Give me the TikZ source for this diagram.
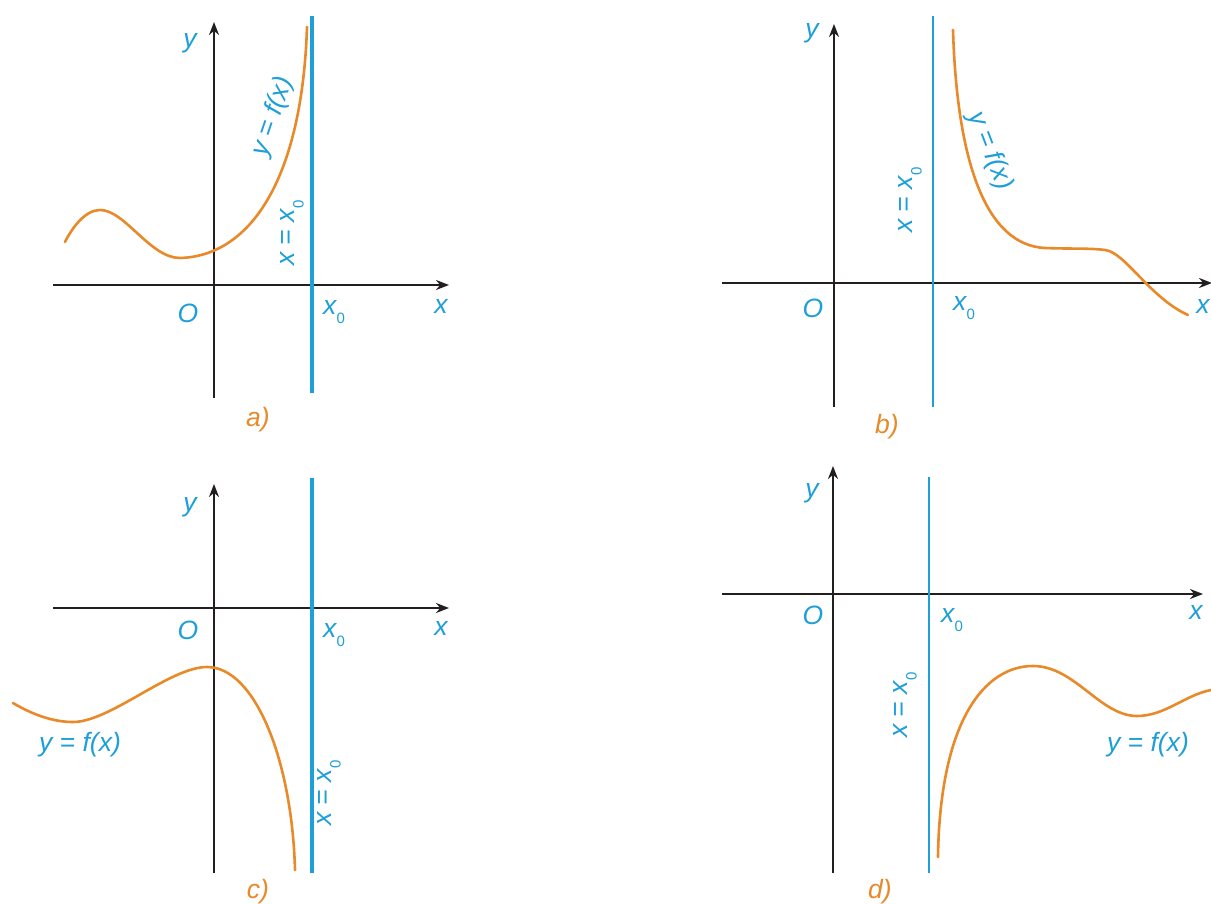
\documentclass[tikz,border=0pt]{standalone}
\usepackage{fontspec}
\setmainfont{Liberation Sans}
\usetikzlibrary{arrows.meta}
\definecolor{axisc}{HTML}{231F20}
\definecolor{bluec}{HTML}{1E9FD8}
\definecolor{orangec}{HTML}{E8892A}
\newcommand{\xsub}{x\kern0.3pt\raisebox{-0.35em}{\fontsize{15}{15}\selectfont\upshape 0}}
\tikzset{
  axis/.style={draw=axisc, line width=2.6pt, -{Stealth[length=13pt,width=10pt]}},
  asym/.style={draw=bluec, line width=3.6pt},
  asymthin/.style={draw=bluec, line width=2.8pt},
  curve/.style={draw=orangec, line width=2.6pt, line cap=round, line join=round},
  lab/.style={text=bluec, font=\fontsize{26.5}{30}\selectfont\itshape, inner sep=0pt},
  panellab/.style={text=orangec, font=\fontsize{26.5}{30}\selectfont\itshape, inner sep=0pt},
}
\begin{document}
\begin{tikzpicture}[x=1pt,y=-1pt]
\useasboundingbox (0,0) rectangle (1211,904);
\fill[white] (0,0) rectangle (1211,904);

% ---------- panel a ----------
\coordinate (aXl) at (53,285); \coordinate (aXr) at (449,285);
\coordinate (aYb) at (214,398); \coordinate (aYt) at (214,22);
\coordinate (aAt) at (312,16); \coordinate (aAb) at (312,393);
\draw[axis] (aXl) -- (aXr);
\draw[axis] (aYb) -- (aYt);
\draw[asym] (aAt) -- (aAb);
\draw[curve] (65,242) .. controls (72,228) and (85,210) .. (100,210)
  .. controls (125,210) and (150,258) .. (180,258)
  .. controls (250,256) and (302,180) .. (307,27);
\node[lab] (ay) at (190,43) {y};
\node[lab] (aO) at (188,313) {O};
\node[lab] (ax0) at (334,312) {\xsub};
\node[lab] (ax) at (441,307) {x};
\node[lab, rotate=71] (af) at (273,117) {y = f(x)};
\node[lab, rotate=90] (aa) at (292,233) {x = \xsub};
\node[panellab] (acap) at (258,420) {a)};

% ---------- panel b ----------
\coordinate (bXl) at (722,283); \coordinate (bXr) at (1212,283);
\coordinate (bYb) at (834,407); \coordinate (bYt) at (834,24);
\coordinate (bAt) at (933,16); \coordinate (bAb) at (933,407);
\draw[axis] (bXl) -- (bXr);
\draw[axis] (bYb) -- (bYt);
\draw[asymthin] (bAt) -- (bAb);
\draw[curve] (953,30) .. controls (957,160) and (985,245) .. (1045,248)
  .. controls (1070,249) and (1090,248) .. (1105,250)
  .. controls (1125,252) and (1150,298) .. (1188,315);
\node[lab] (by) at (812,33) {y};
\node[lab] (bO) at (813,308) {O};
\node[lab] (bx0) at (964,308) {\xsub};
\node[lab] (bx) at (1203,307) {x};
\node[lab, rotate=-69] (bf) at (990,151) {y = f(x)};
\node[lab, rotate=90] (ba) at (910,200) {x = \xsub};
\node[panellab] (bcap) at (887,427) {b)};

% ---------- panel c ----------
\coordinate (cXl) at (53,608); \coordinate (cXr) at (449,608);
\coordinate (cYb) at (214,873); \coordinate (cYt) at (214,484);
\coordinate (cAt) at (312,478); \coordinate (cAb) at (312,873);
\draw[axis] (cXl) -- (cXr);
\draw[axis] (cYb) -- (cYt);
\draw[asym] (cAt) -- (cAb);
\draw[curve] (13,703) .. controls (35,716) and (55,722) .. (73,722)
  .. controls (110,722) and (170,667) .. (207,667)
  .. controls (255,667) and (292,760) .. (295,870);
\node[lab] (cy) at (190,507) {y};
\node[lab] (cO) at (188,630) {O};
\node[lab] (cx0) at (334,635) {\xsub};
\node[lab] (cx) at (441,628) {x};
\node[lab] (cf) at (80,745) {y = f(x)};
\node[lab, rotate=90] (ca) at (329,793) {x = \xsub};
\node[panellab] (ccap) at (258,892) {c)};

% ---------- panel d ----------
\coordinate (dXl) at (722,594); \coordinate (dXr) at (1203,594);
\coordinate (dYb) at (833,873); \coordinate (dYt) at (833,466);
\coordinate (dAt) at (929,477); \coordinate (dAb) at (929,873);
\draw[axis] (dXl) -- (dXr);
\draw[axis] (dYb) -- (dYt);
\draw[asymthin] (dAt) -- (dAb);
\draw[curve] (938,857) .. controls (940,720) and (985,666) .. (1033,666)
  .. controls (1075,666) and (1100,716) .. (1137,716)
  .. controls (1165,716) and (1185,695) .. (1211,690);
\node[lab] (dy) at (812,493) {y};
\node[lab] (dO) at (813,615) {O};
\node[lab] (dx0) at (952,620) {\xsub};
\node[lab] (dx) at (1196,612) {x};
\node[lab] (df) at (1148,745) {y = f(x)};
\node[lab, rotate=90] (da) at (905,705) {x = \xsub};
\node[panellab] (dcap) at (880,892) {d)};
\end{tikzpicture}
\end{document}
